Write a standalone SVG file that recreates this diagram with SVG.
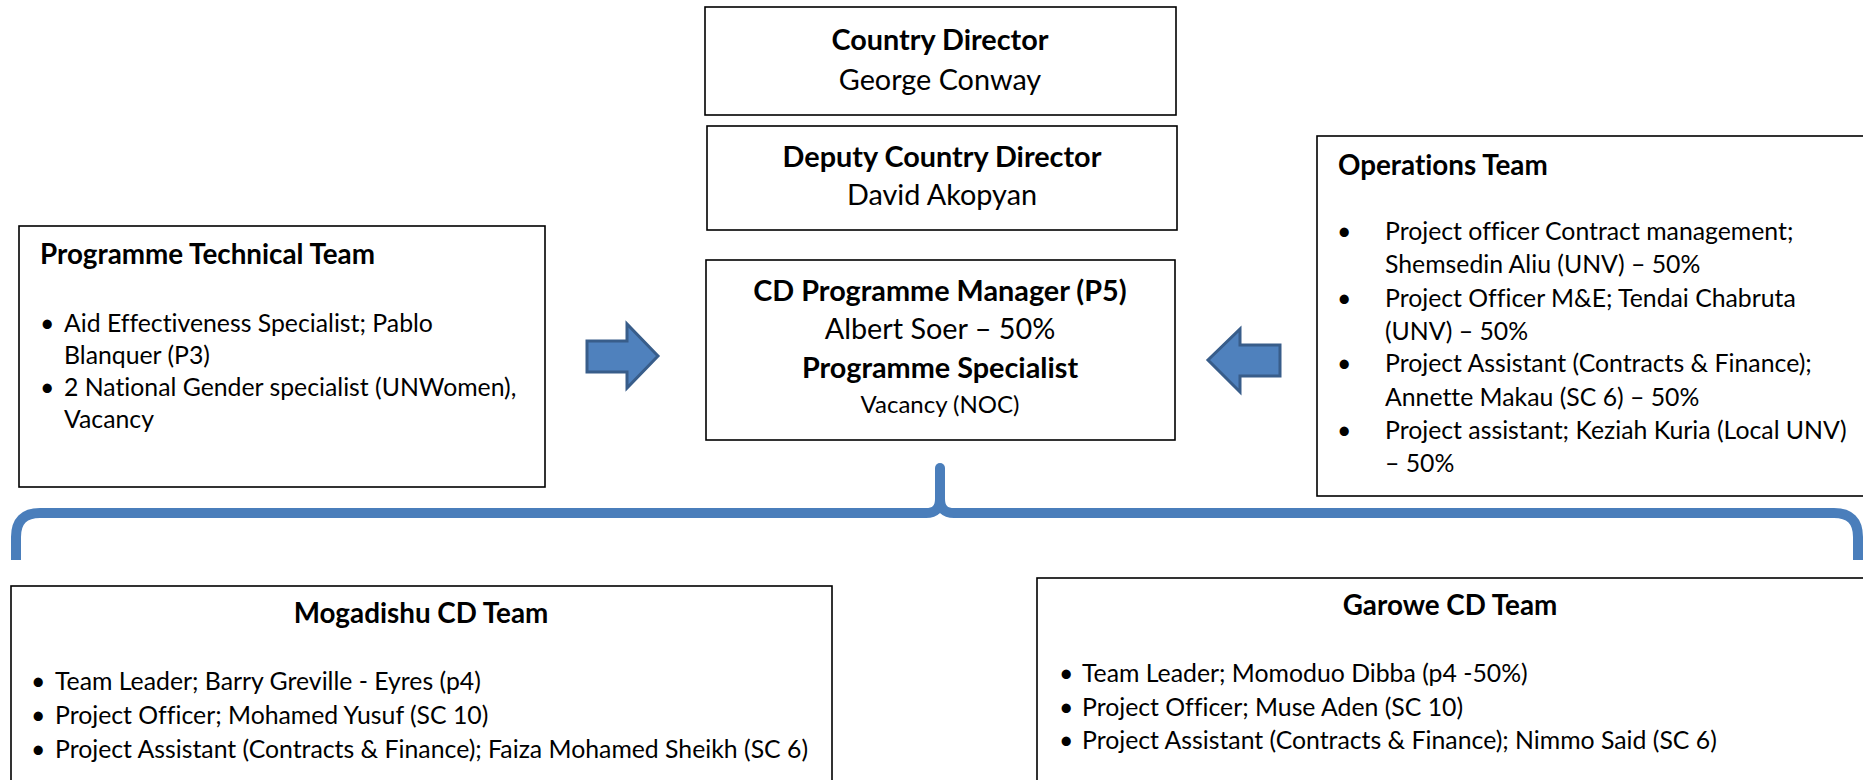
<svg xmlns="http://www.w3.org/2000/svg" width="1863" height="780" viewBox="0 0 1863 780">
<style>
.box{fill:#fff;stroke:#000;stroke-width:1.6}
text{font-family:Lato,"Open Sans","Liberation Sans",sans-serif;fill:#000;font-variant-ligatures:none;font-feature-settings:"liga" 0,"dlig" 0}
.c{text-anchor:middle}
.b{font-weight:bold}
.big{font-size:28.8px}
.hd{font-size:27.8px}
.mid{font-size:24px}
.sm{font-size:24.8px}
.arrow{fill:#4F81BD;stroke:#385D8A;stroke-width:3;stroke-linejoin:miter}
.brace{fill:none;stroke:#4A7EBB;stroke-width:10}
</style>
<g id="country-director">
<rect class="box" x="705" y="7" width="471" height="108"/>
<text class="c b big" x="940" y="50">Country Director</text>
<text class="c big" x="940" y="90">George Conway</text>
</g>
<g id="deputy-director">
<rect class="box" x="707" y="126" width="470" height="104"/>
<text class="c b big" x="942" y="167">Deputy Country Director</text>
<text class="c big" x="942" y="205">David Akopyan</text>
</g>
<g id="programme-manager">
<rect class="box" x="706" y="260" width="469" height="180"/>
<text class="c b big" x="940" y="301">CD Programme Manager (P5)</text>
<text class="c big" x="940" y="339">Albert Soer – 50%</text>
<text class="c b big" x="940" y="378">Programme Specialist</text>
<text class="c mid" x="940" y="413">Vacancy (NOC)</text>
</g>
<g id="programme-technical-team">
<rect class="box" x="19" y="226" width="526" height="261"/>
<text class="b hd" x="40" y="264">Programme Technical Team</text>
<text class="sm" x="40" y="332">•</text>
<text class="sm" x="64" y="332">Aid Effectiveness Specialist; Pablo</text>
<text class="sm" x="64" y="364">Blanquer (P3)</text>
<text class="sm" x="40" y="396">•</text>
<text class="sm" x="64" y="396">2 National Gender specialist (UNWomen),</text>
<text class="sm" x="64" y="428">Vacancy</text>
</g>
<g id="operations-team">
<rect class="box" x="1317" y="136" width="560" height="360"/>
<text class="b hd" x="1338" y="175">Operations Team</text>
<text class="sm" x="1337" y="240">•</text>
<text class="sm" x="1385" y="240">Project officer Contract management;</text>
<text class="sm" x="1385" y="273">Shemsedin Aliu (UNV) – 50%</text>
<text class="sm" x="1337" y="307">•</text>
<text class="sm" x="1385" y="307">Project Officer M&amp;E; Tendai Chabruta</text>
<text class="sm" x="1385" y="340">(UNV) – 50%</text>
<text class="sm" x="1337" y="372">•</text>
<text class="sm" x="1385" y="372">Project Assistant (Contracts &amp; Finance);</text>
<text class="sm" x="1385" y="406">Annette Makau (SC 6) – 50%</text>
<text class="sm" x="1337" y="439">•</text>
<text class="sm" x="1385" y="439">Project assistant; Keziah Kuria (Local UNV)</text>
<text class="sm" x="1385" y="472">– 50%</text>
</g>
<g id="mogadishu-team">
<rect class="box" x="11" y="586" width="821" height="210"/>
<text class="c b hd" x="421" y="623">Mogadishu CD Team</text>
<text class="sm" x="31" y="690">•</text>
<text class="sm" x="55" y="690">Team Leader; Barry Greville - Eyres (p4)</text>
<text class="sm" x="31" y="724">•</text>
<text class="sm" x="55" y="724">Project Officer; Mohamed Yusuf (SC 10)</text>
<text class="sm" x="31" y="758">•</text>
<text class="sm" x="55" y="758">Project Assistant (Contracts &amp; Finance); Faiza Mohamed Sheikh (SC 6)</text>
</g>
<g id="garowe-team">
<rect class="box" x="1037" y="578" width="840" height="220"/>
<text class="c b hd" x="1450" y="615">Garowe CD Team</text>
<text class="sm" x="1059" y="682">•</text>
<text class="sm" x="1082" y="682">Team Leader; Momoduo Dibba (p4 -50%)</text>
<text class="sm" x="1059" y="716">•</text>
<text class="sm" x="1082" y="716">Project Officer; Muse Aden (SC 10)</text>
<text class="sm" x="1059" y="749">•</text>
<text class="sm" x="1082" y="749">Project Assistant (Contracts &amp; Finance); Nimmo Said (SC 6)</text>
</g>
<g id="connectors">
<polygon class="arrow" points="587,341 627,341 627,324 658,356 627,388 627,372 587,372"/>
<polygon class="arrow" points="1280,345 1240,345 1240,329 1208,360 1240,392 1240,376 1280,376"/>
<path class="brace" d="M16,560 V537 Q16,513 40,513 H926 Q940,513 940,499 V468 M940,499 Q940,513 954,513 H1834 Q1858,513 1858,537 V560"/>
<path class="brace" d="M940,500 V468" stroke-linecap="round"/>
</g>
</svg>
